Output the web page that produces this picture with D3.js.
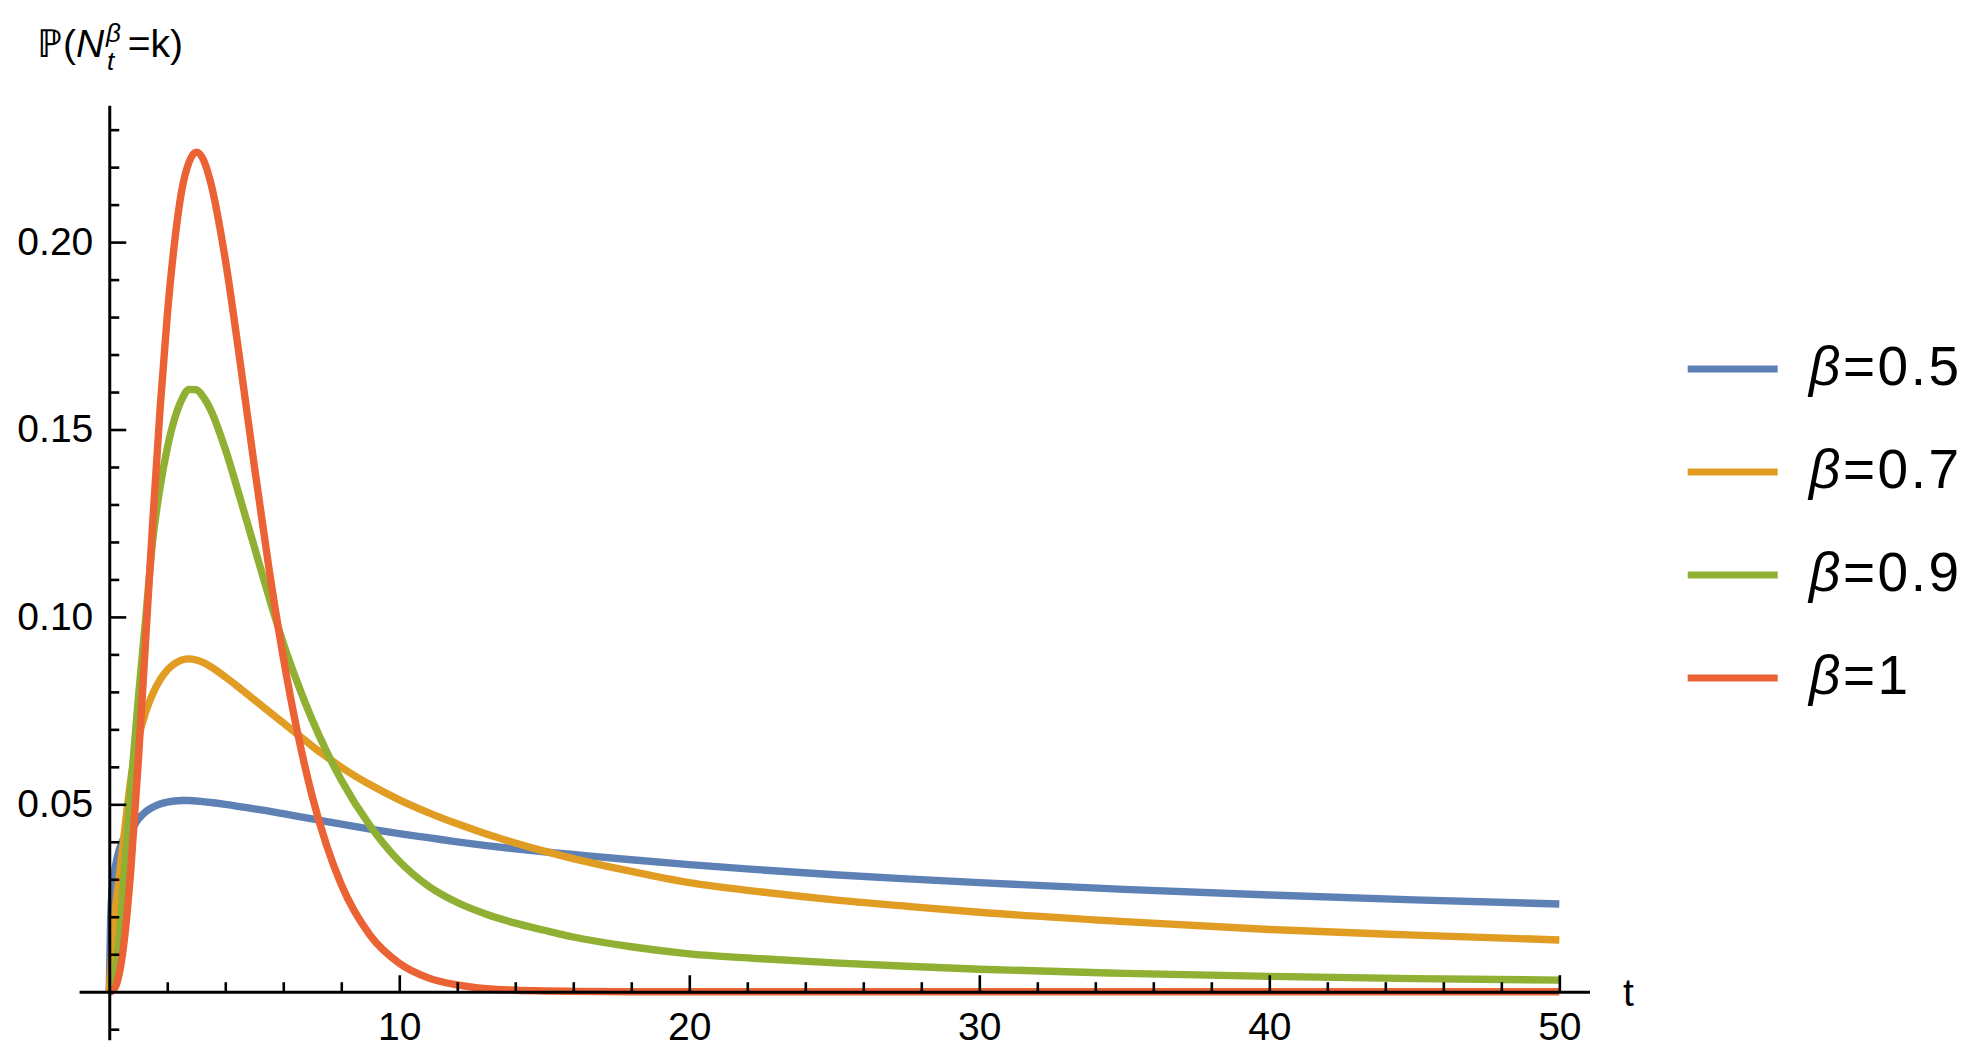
<!DOCTYPE html>
<html>
<head>
<meta charset="utf-8">
<script src="https://cdn.jsdelivr.net/npm/d3@7"></script>
<style>
  body { margin: 0; background: #fff; }
  text { font-family: "Liberation Sans", Arial, sans-serif; fill: #000; }
</style>
</head>
<body>
<script>
// values
let tGrid = [0, 0.05, 0.1, 0.2, 0.35, 0.5, 0.75, 1, 1.25, 1.5, 1.75, 2, 2.25, 2.5, 2.75,
  3, 3.25, 3.5, 4, 4.5, 5, 5.5, 6, 6.5, 7, 7.5, 8, 9, 10, 11, 12, 13, 14, 15, 16,
  18, 20, 22.5, 25, 27.5, 30, 35, 40, 45, 50];

let blueP = [0, 0.020, 0.027, 0.033, 0.038, 0.041, 0.043, 0.046, 0.048, 0.0492,
  0.0501, 0.0506, 0.0509, 0.0510, 0.0510, 0.0509, 0.0507, 0.0505, 0.0500, 0.0494,
  0.0488, 0.0482, 0.0475, 0.0468, 0.0461, 0.0454, 0.0447, 0.0434, 0.0422, 0.0411,
  0.0400, 0.0390, 0.0381, 0.0373, 0.0366, 0.0352, 0.0339, 0.0325, 0.0312, 0.0301,
  0.0291, 0.0273, 0.0258, 0.0245, 0.0234];

let orangeP = [0, 0.006, 0.011, 0.021, 0.031, 0.041, 0.057, 0.0675, 0.0745, 0.0795,
  0.0832, 0.0858, 0.0875, 0.0885, 0.0888, 0.0885, 0.0878, 0.0867, 0.0840, 0.0810,
  0.0779, 0.0748, 0.0717, 0.0686, 0.0655, 0.0626, 0.0599, 0.0552, 0.0512, 0.0478,
  0.0448, 0.0421, 0.0397, 0.0375, 0.0355, 0.0321, 0.0291, 0.0266, 0.0245, 0.0228,
  0.0212, 0.0187, 0.0166, 0.0151, 0.0138];

let greenP = [0, 0.0003, 0.001, 0.005, 0.015, 0.030, 0.055, 0.078, 0.099, 0.1205,
  0.1345, 0.1450, 0.1528, 0.1580, 0.1607, 0.1606, 0.1586, 0.1552, 0.1448, 0.1320,
  0.1187, 0.1055, 0.0930, 0.0822, 0.0725, 0.0640, 0.0565, 0.0442, 0.0348, 0.0282,
  0.0238, 0.0207, 0.0183, 0.0164, 0.0146, 0.0120, 0.0101, 0.0088, 0.0077, 0.0068,
  0.0060, 0.0049, 0.0041, 0.0035, 0.0031];

let redP = [0, 0, 0.0002, 0.0011, 0.005, 0.0126, 0.0332, 0.0613, 0.0932, 0.1255,
  0.1552, 0.1804, 0.1998, 0.2138, 0.2213, 0.2240, 0.2219, 0.2158, 0.1954, 0.1687,
  0.1404, 0.1133, 0.0892, 0.0688, 0.0521, 0.0389, 0.0286, 0.0150, 0.0076, 0.0037,
  0.0018, 0.0008, 0.0004, 0.0002, 0.0001, 0, 0, 0, 0, 0,
  0, 0, 0, 0, 0];

let seriesNames = ["0.5", "0.7", "0.9", "1"];
let seriesColors = ["#5E81B5", "#E19C24", "#8FB032", "#EB6235"];
let seriesValues = [blueP, orangeP, greenP, redP];

let xMajor = [10, 20, 30, 40, 50];
let xMinor = [2, 4, 6, 8, 12, 14, 16, 18, 22, 24, 26, 28, 32, 34, 36, 38, 42, 44, 46, 48];
let yMajor = [0.05, 0.10, 0.15, 0.20];
let yMinor = [-0.01, 0.01, 0.02, 0.03, 0.04, 0.06, 0.07, 0.08, 0.09, 0.11, 0.12, 0.13,
  0.14, 0.16, 0.17, 0.18, 0.19, 0.21, 0.22, 0.23];

let W = 1974, H = 1060;

let svg = d3.select("body")
  .append("svg")
  .attr("width", W)
  .attr("height", H);

let xScale = d3.scaleLinear()
  .domain([-1.04, 51.04])
  .range([79.1, 1589.5]);
let yScale = d3.scaleLinear()
  .domain([-0.0128, 0.2365])
  .range([1039.7, 105.3]);

// curves
let line = d3.line()
  .x(d => xScale(d[0]))
  .y(d => yScale(d[1]))
  .curve(d3.curveMonotoneX);

seriesValues.forEach(function(vals, i) {
  let pts = tGrid.map((t, j) => [t, vals[j]]);
  svg.append("path")
    .datum(pts)
    .attr("d", line)
    .attr("fill", "none")
    .attr("stroke", seriesColors[i])
    .attr("stroke-width", 7.4)
    .attr("stroke-linejoin", "round");
});

// axes (drawn over the curves, like the original)
let x0 = yScale(0), y0 = xScale(0);

function styleAxis(g) {
  g.select(".domain").attr("stroke", "#000").attr("stroke-width", 3);
  g.selectAll(".tick line").attr("stroke", "#000").attr("stroke-width", 2.6);
  g.selectAll(".tick text")
    .style("font-family", "'Liberation Sans', Arial, sans-serif")
    .style("font-size", "39px")
    .attr("fill", "#000");
}

svg.append("g")
  .attr("transform", `translate(0,${x0})`)
  .call(d3.axisBottom(xScale).tickValues(xMinor).tickSize(-9.5).tickSizeOuter(0).tickFormat(""))
  .call(styleAxis);
svg.append("g")
  .attr("transform", `translate(0,${x0})`)
  .call(d3.axisBottom(xScale).tickValues(xMajor).tickSize(-16.5).tickSizeOuter(0)
    .tickPadding(21).tickFormat(d3.format("d")))
  .call(styleAxis)
  .call(g => g.select(".domain").remove());

svg.append("g")
  .attr("transform", `translate(${y0},0)`)
  .call(d3.axisLeft(yScale).tickValues(yMinor).tickSize(-10).tickSizeOuter(0).tickFormat(""))
  .call(styleAxis);
svg.append("g")
  .attr("transform", `translate(${y0},0)`)
  .call(d3.axisLeft(yScale).tickValues(yMajor).tickSize(-17).tickSizeOuter(0)
    .tickPadding(16).tickFormat(d3.format(".2f")))
  .call(styleAxis)
  .call(g => g.select(".domain").remove());

// axis labels
svg.append("text")
  .attr("x", 1623)
  .attr("y", 1006)
  .style("font-size", "39px")
  .text("t");

let ylab = svg.append("text")
  .attr("x", 37)
  .attr("y", 57.3)
  .style("font-size", "39px");
ylab.append("tspan").text("\u2119(");
ylab.append("tspan").style("font-style", "italic").text("N");
ylab.append("tspan").attr("x", 106).attr("y", 41.5)
  .style("font-size", "26px").style("font-style", "italic").text("\u03B2");
ylab.append("tspan").attr("x", 107).attr("y", 70)
  .style("font-size", "26px").style("font-style", "italic").text("t");
ylab.append("tspan").attr("x", 127.7).attr("y", 57.3).text("=k)");

// legend
let legend = svg.append("g");
seriesNames.forEach(function(name, i) {
  let cy = 369 + i * 103;
  legend.append("line")
    .attr("x1", 1687.7).attr("x2", 1777.7)
    .attr("y1", cy).attr("y2", cy)
    .attr("stroke", seriesColors[i])
    .attr("stroke-width", 7);
  let txt = legend.append("text")
    .attr("x", 1809)
    .attr("y", cy + 16)
    .style("font-size", "55px")
    .style("letter-spacing", "2.5px");
  txt.append("tspan").style("font-style", "italic").text("\u03B2");
  txt.append("tspan").text("=" + name);
});
</script>
</body>
</html>
